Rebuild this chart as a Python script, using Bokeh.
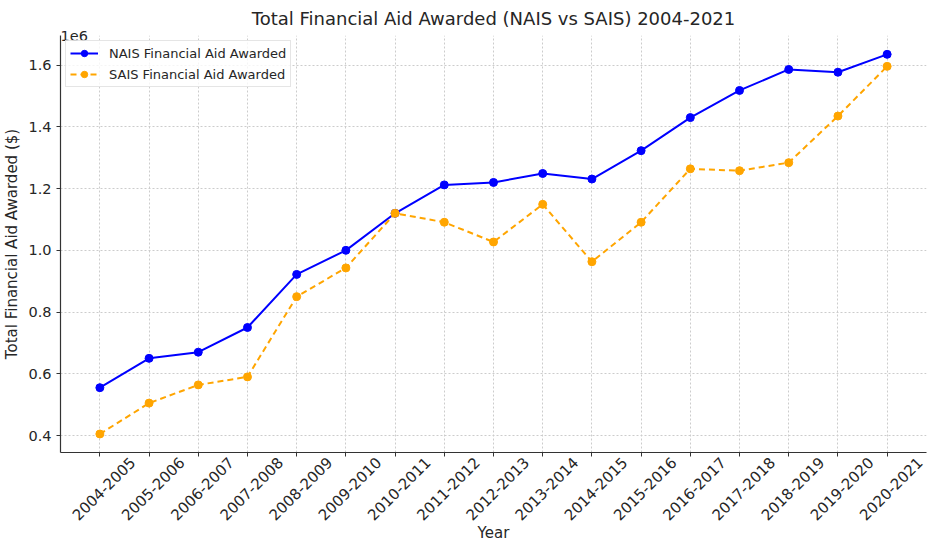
from bokeh.plotting import figure
from bokeh.models import (ColumnDataSource, FixedTicker, CustomJSTickFormatter,
                          Range1d, Title, Legend, LegendItem)
from bokeh.embed import file_html
from bokeh.resources import INLINE
import math

years = ["2004-2005", "2005-2006", "2006-2007", "2007-2008", "2008-2009",
         "2009-2010", "2010-2011", "2011-2012", "2012-2013", "2013-2014",
         "2014-2015", "2015-2016", "2016-2017", "2017-2018", "2018-2019",
         "2019-2020", "2020-2021"]
nais = [555000, 650000, 670000, 750000, 922000, 1000000, 1120000, 1212000,
        1220000, 1249000, 1231000, 1323000, 1430000, 1518000, 1586000,
        1577000, 1635000]
sais = [405000, 505000, 564000, 590000, 850000, 943000, 1120000, 1091000,
        1027000, 1149000, 963000, 1091000, 1264000, 1258000, 1284000,
        1435000, 1596000]
y_ticks = [400000, 600000, 800000, 1000000, 1200000, 1400000, 1600000]

FONT = "DejaVu Sans"
TXT = "#262626"
LBL_SHIFT = 0.66

idx = list(range(len(years)))
src = ColumnDataSource(dict(x=idx, year=years, nais=nais, sais=sais))

p = figure(width=928, height=544, output_backend="svg", toolbar_location=None,
           x_range=Range1d(-0.8, len(years) - 1 + 0.8),
           y_range=Range1d(345000, 1696000),
           min_border_left=52, min_border_right=2, min_border_top=10,
           min_border_bottom=10)

p.title.text = "Total Financial Aid Awarded (NAIS vs SAIS) 2004-2021"
p.title.align = "center"
p.title.text_font = FONT
p.title.text_font_size = "18px"
p.title.text_font_style = "normal"
p.title.text_color = TXT
p.title.standoff = 10

p.add_layout(Title(text="1e6", align="left", text_font=FONT,
                   text_font_size="14.5px", text_font_style="normal",
                   text_color=TXT, standoff=-10), "above")

p.outline_line_color = None

l1 = p.line("x", "nais", source=src, line_color="#0000ff", line_width=2)
c1 = p.scatter("x", "nais", source=src, size=8, fill_color="#0000ff",
               line_color="#0000ff")
l2 = p.line("x", "sais", source=src, line_color="#ffa500", line_width=2,
            line_dash="6 4")
c2 = p.scatter("x", "sais", source=src, size=8, fill_color="#ffa500",
               line_color="#ffa500")

# x axis: tick marks (as minor ticks) at each year, labels offset so that the
# rotated text is centred under its tick
xa = p.xaxis[0]
xa.ticker = FixedTicker(ticks=[i + LBL_SHIFT for i in idx], minor_ticks=idx)
xa.formatter = CustomJSTickFormatter(
    args=dict(labels=years, shift=LBL_SHIFT),
    code="return labels[Math.round(tick - shift)];")
xa.major_label_orientation = math.pi / 4
xa.major_tick_line_color = None
xa.major_tick_out = 0
xa.major_tick_in = 0
xa.minor_tick_line_color = "#333333"
xa.minor_tick_out = 4
xa.minor_tick_in = 0
xa.major_label_standoff = 3
xa.major_label_text_font = FONT
xa.major_label_text_font_size = "15px"
xa.major_label_text_color = TXT
xa.axis_label = "Year"
xa.axis_label_standoff = -5

ya = p.yaxis[0]
ya.ticker = FixedTicker(ticks=y_ticks)
ya.formatter = CustomJSTickFormatter(code="return (tick/1e6).toFixed(1);")
ya.axis_label = "Total Financial Aid Awarded ($)"
ya.major_label_text_font = FONT
ya.major_label_text_font_size = "14.5px"
ya.major_label_text_color = TXT
ya.axis_label_standoff = 4
ya.major_tick_line_color = "#333333"
ya.major_tick_out = 4
ya.major_tick_in = 0
ya.minor_tick_line_color = None

for ax in (xa, ya):
    ax.axis_line_color = "#333333"
    ax.axis_line_width = 1.2
    ax.axis_label_text_font = FONT
    ax.axis_label_text_font_size = "15px"
    ax.axis_label_text_font_style = "normal"
    ax.axis_label_text_color = TXT

p.xgrid.ticker = FixedTicker(ticks=idx)
p.ygrid.ticker = FixedTicker(ticks=y_ticks)
for g in (p.xgrid, p.ygrid):
    g.grid_line_color = "#cccccc"
    g.grid_line_dash = "2 2"
    g.grid_line_width = 1

legend = Legend(items=[
    LegendItem(label="NAIS Financial Aid Awarded", renderers=[l1, c1]),
    LegendItem(label="SAIS Financial Aid Awarded", renderers=[l2, c2]),
], location="top_left")
legend.label_text_font = FONT
legend.label_text_font_size = "13px"
legend.label_text_color = TXT
legend.border_line_color = "#cccccc"
legend.background_fill_alpha = 0.8
legend.glyph_width = 28
legend.glyph_height = 16
legend.spacing = 5
legend.padding = 4
legend.margin = 5
legend.label_standoff = 11
p.add_layout(legend)

open("out.html", "w").write(file_html(p, INLINE))
